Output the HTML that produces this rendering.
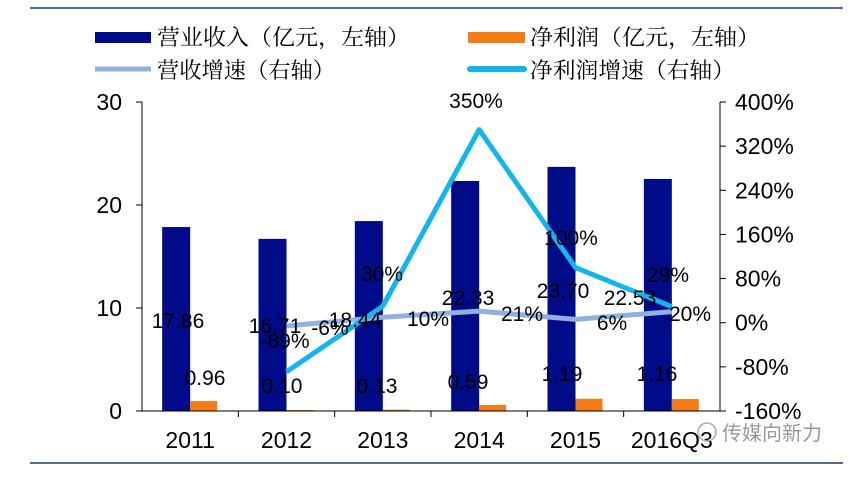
<!DOCTYPE html>
<html><head><meta charset="utf-8"><style>
body{margin:0;background:#fff;}
svg text{font-family:"Liberation Sans","Noto Sans CJK SC",sans-serif;}
</style></head><body>
<svg width="850" height="472" viewBox="0 0 850 472" xmlns="http://www.w3.org/2000/svg">
<line x1="30" y1="8" x2="843" y2="8" stroke="#1f3a6e" stroke-width="1.5"/>
<line x1="30" y1="463" x2="843" y2="463" stroke="#1f3a6e" stroke-width="1.5"/>
<g font-size="22">
<g><rect x="95" y="32" width="56" height="11" fill="#000b8a"/><text x="157" y="45" textLength="253" lengthAdjust="spacingAndGlyphs" style="font-family:'Noto Serif CJK SC',serif">营业收入（亿元，左轴）</text></g>
<g><rect x="468" y="32" width="57" height="11" fill="#f57c14"/><text x="530" y="45" textLength="230" lengthAdjust="spacingAndGlyphs" style="font-family:'Noto Serif CJK SC',serif">净利润（亿元，左轴）</text></g>
<g><line x1="95" y1="69" x2="151" y2="69" stroke="#8fb0e0" stroke-width="5"/><text x="157" y="78" textLength="178" lengthAdjust="spacingAndGlyphs" style="font-family:'Noto Serif CJK SC',serif">营收增速（右轴）</text></g>
<g><line x1="470" y1="69" x2="524" y2="69" stroke="#14b4ec" stroke-width="6" stroke-linecap="round"/><text x="530" y="78" textLength="205" lengthAdjust="spacingAndGlyphs" style="font-family:'Noto Serif CJK SC',serif">净利润增速（右轴）</text></g>
</g>
<g id="plot"></g>
<circle cx="707" cy="432" r="9" fill="none" stroke="#aaa" stroke-width="1.5"/>
<text x="722" y="440" font-size="20" fill="#999">传媒向新力</text>
</svg>
<script>
const categories=["2011","2012","2013","2014","2015","2016Q3"];
const revenue=[17.86,16.71,18.44,22.33,23.70,22.53];
const netProfit=[0.96,0.10,0.13,0.59,1.19,1.16];
const revenueGrowth=[null,-6,10,21,6,20];
const profitGrowth=[null,-89,30,350,100,29];
const leftTicks=[0,10,20,30];
const rightTicks=[-160,-80,0,80,160,240,320,400];
const revLabelPos=[[178,328],[275,333],[355,327],[468,305],[563,298],[630,305]];
const npLabelPos=[[205,385],[282,393],[377,393],[468,389],[562,381],[657,381]];
const rgLabelPos=[null,[330,335],[428,326],[522,321],[612,330],[690,321]];
const pgLabelPos=[null,[285,348],[382,281],[476,108],[571,245],[668,282]];
const NS="http://www.w3.org/2000/svg";
const g=document.getElementById('plot');
const X0=142,X1=720,Y0=411,Y1=102;
const bw=(X1-X0)/categories.length;
const yL=v=>Y0-(v/30)*(Y0-Y1);
const yR=v=>Y0-((v+160)/560)*(Y0-Y1);
const xc=i=>X0+bw*(i+0.5);
function mk(t,a){const e=document.createElementNS(NS,t);for(const k in a)e.setAttribute(k,a[k]);g.appendChild(e);return e;}
function txt(x,y,s,anchor,size){const e=mk('text',{x:x,y:y,'font-size':size,'text-anchor':anchor});e.textContent=s;return e;}
categories.forEach((c,i)=>{
 const b=mk('rect',{x:xc(i)-28,y:yL(revenue[i]),width:28,height:Y0-yL(revenue[i]),fill:'#000b8a'});
 
 
 const o=mk('rect',{x:xc(i),y:yL(netProfit[i]),width:27,height:Y0-yL(netProfit[i]),fill:'#f57c14'});
 
 
 const l=txt(xc(i),448,c,'middle',23);
 
 
});
mk('line',{x1:X0,y1:Y0,x2:X1,y2:Y0,stroke:'#000','stroke-width':1});
mk('line',{x1:X0,y1:Y1,x2:X0,y2:Y0,stroke:'#000','stroke-width':1});
mk('line',{x1:X1,y1:Y1,x2:X1,y2:Y0,stroke:'#000','stroke-width':1});
for(let i=1;i<categories.length;i++)mk('line',{x1:X0+bw*i,y1:Y0,x2:X0+bw*i,y2:Y0+6,stroke:'#000'});
leftTicks.forEach(v=>{mk('line',{x1:X0-6,y1:yL(v),x2:X0,y2:yL(v),stroke:'#000'});
 const t=txt(122,yL(v)+8,String(v),'end',23);
 
 });
rightTicks.forEach(v=>{mk('line',{x1:X1,y1:yR(v),x2:X1+6,y2:yR(v),stroke:'#000'});
 const t=txt(735,yR(v)+8,v+'%','start',23);
 
 });
function line(arr,color,w,name){let d='';arr.forEach((v,i)=>{if(v===null)return;d+=(d?'L':'M')+xc(i)+','+yR(v);});
 const p=mk('path',{d:d,fill:'none',stroke:color,'stroke-width':w,'stroke-linejoin':'round'});
 
 }
line(revenueGrowth,'#8fb0e0',5,'line-revenue-growth');
line(profitGrowth,'#14b4ec',5,'line-profit-growth');
categories.forEach((c,i)=>{
 let t=txt(revLabelPos[i][0],revLabelPos[i][1],revenue[i].toFixed(2),'middle',21);
 
 
 t=txt(npLabelPos[i][0],npLabelPos[i][1],netProfit[i].toFixed(2),'middle',21);
 
 
 if(revenueGrowth[i]!==null){t=txt(rgLabelPos[i][0],rgLabelPos[i][1],revenueGrowth[i]+'%','middle',21);
 
 }
 if(profitGrowth[i]!==null){t=txt(pgLabelPos[i][0],pgLabelPos[i][1],profitGrowth[i]+'%','middle',21);
 
 }
});
</script>
</body></html>
